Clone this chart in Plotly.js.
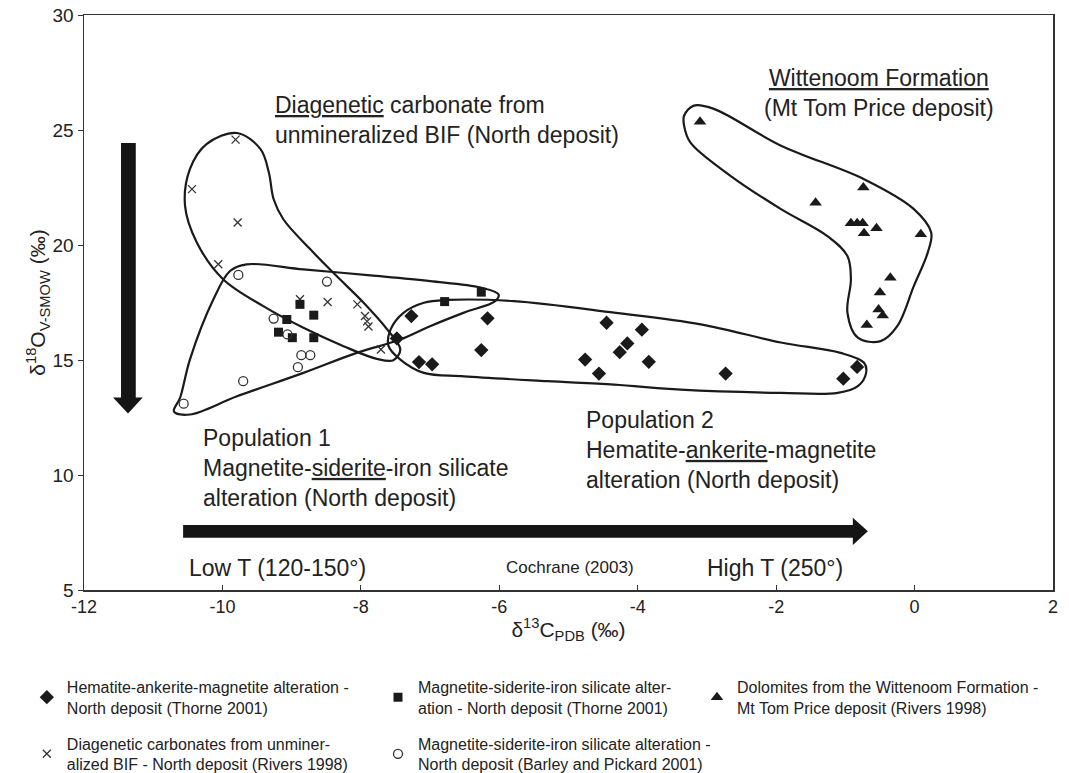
<!DOCTYPE html>
<html>
<head>
<meta charset="utf-8">
<script src="https://cdn.plot.ly/plotly-3.0.1.min.js"></script>
<style>html,body{margin:0;padding:0;background:#fff;}#chart{width:1069px;height:773px;}</style>
</head>
<body>
<div id="chart"></div>
<script>
// ---- data: δ13C (x) and δ18O (y) values ----
const hematiteX = [-7.27,-6.17,-7.48,-6.26,-7.16,-6.97,-4.45,-3.94,-4.15,-4.26,-4.76,-3.84,-4.56,-2.73,-1.03,-0.83];
const hematiteY = [16.91,16.81,15.94,15.43,14.91,14.81,16.62,16.32,15.72,15.34,15.02,14.92,14.41,14.41,14.19,14.70];

const magThorneX = [-8.88,-8.68,-9.07,-9.19,-8.99,-8.68,-6.79,-6.26];
const magThorneY = [17.42,16.95,16.76,16.21,15.97,15.97,17.54,17.95];

const dolomiteX = [-3.10,-0.74,-1.43,-0.92,-0.83,-0.75,-0.73,-0.55,0.09,-0.35,-0.50,-0.52,-0.46,-0.69];
const dolomiteY = [25.36,22.50,21.84,20.95,20.95,20.95,20.51,20.73,20.47,18.58,17.93,17.20,16.94,16.52];

const diageneticX = [-9.81,-10.44,-9.78,-10.06,-8.88,-8.48,-8.05,-7.94,-7.91,-7.89,-7.71];
const diageneticY = [24.58,22.43,20.98,19.16,17.64,17.52,17.42,16.91,16.68,16.46,15.46];

const magBarleyX = [-9.77,-8.49,-9.26,-9.06,-8.86,-8.73,-8.91,-9.70,-10.56];
const magBarleyY = [18.70,18.41,16.80,16.11,15.21,15.21,14.69,14.08,13.10];

// ---- hand-drawn field outlines (data coordinates) ----
const fieldDiagX = [-10.23,-9.79,-9.45,-9.33,-9.26,-9.12,-8.73,-8.35,-7.96,-7.62,-7.43,-7.53,-7.77,-8.25,-8.83,-9.41,-9.99,-10.37,-10.54,-10.47,-10.23];
const fieldDiagY = [24.39,24.87,24.17,23.16,21.99,21.12,19.81,18.65,17.49,16.33,15.46,14.99,15.05,15.60,16.40,17.34,18.51,20.11,21.70,23.30,24.39];

const fieldPop1X = [-9.65,-8.83,-7.86,-7.00,-6.27,-6.01,-6.06,-6.51,-7.00,-7.43,-8.06,-8.83,-9.79,-10.47,-10.70,-10.61,-10.47,-10.13,-9.89,-9.65];
const fieldPop1Y = [19.16,18.94,18.68,18.43,18.15,17.85,17.56,17.06,16.47,15.89,15.31,14.44,13.42,12.63,12.76,13.37,15.02,17.64,18.87,19.16];

const fieldPop2X = [-7.09,-6.75,-5.79,-4.34,-3.09,-1.93,-1.07,-0.73,-0.70,-0.82,-1.11,-1.93,-3.38,-4.34,-5.31,-6.51,-7.09,-7.43,-7.60,-7.57,-7.38,-7.09];
const fieldPop2Y = [17.49,17.61,17.56,17.06,16.55,15.76,15.31,14.88,14.44,13.86,13.57,13.57,13.71,13.93,14.08,14.29,14.44,15.02,15.60,16.33,17.06,17.49];

const fieldWittX = [-3.19,-2.90,-1.93,-0.73,-0.01,0.24,0.19,-0.01,-0.25,-0.49,-0.82,-0.97,-0.92,-0.97,-1.26,-1.93,-2.66,-3.24,-3.33,-3.33,-3.19];
const fieldWittY = [26.06,25.92,24.32,22.86,21.56,20.54,19.67,18.22,16.47,15.82,15.97,17.06,18.51,19.52,20.39,21.56,23.01,24.46,25.19,25.62,26.06];

// ---- tick labels ----
const xTickVals = [-12, -10, -8, -6, -4, -2, 0, 2];
const xTickText = ['-12', '-10', '-8', '-6', '-4', '-2', '0', '2'];

// ---- legend labels ----
const names = [
  "Hematite-ankerite-magnetite alteration -<br>North deposit (Thorne 2001)",
  "Magnetite-siderite-iron silicate alter-<br>ation - North deposit (Thorne 2001)",
  "Dolomites from the Wittenoom Formation -<br>Mt Tom Price deposit (Rivers 1998)",
  "Diagenetic carbonates from unminer-<br>alized BIF - North deposit (Rivers 1998)",
  "Magnetite-siderite-iron silicate alteration -<br>North deposit (Barley and Pickard 2001)"
];

const ink = '#1a1a1a';
function field(x, y) {
  return {x: x, y: y, type: 'scatter', mode: 'lines', showlegend: false, hoverinfo: 'skip',
          line: {color: ink, width: 2.2, shape: 'spline', smoothing: 1}};
}
const traces = [
  field(fieldDiagX, fieldDiagY), field(fieldPop1X, fieldPop1Y),
  field(fieldPop2X, fieldPop2Y), field(fieldWittX, fieldWittY),
  {x: hematiteX, y: hematiteY, name: names[0], type: 'scatter', mode: 'markers', legend: 'legend', legendgroup: 'a',
   marker: {symbol: 'diamond', size: 11, color: ink}},
  {x: diageneticX, y: diageneticY, name: names[3], type: 'scatter', mode: 'markers', legend: 'legend', legendgroup: 'b',
   marker: {symbol: 'x-thin-open', size: 8, color: '#333', line: {width: 1.3, color: '#333'}}},
  {x: magThorneX, y: magThorneY, name: names[1], type: 'scatter', mode: 'markers', legend: 'legend2', legendgroup: 'c',
   marker: {symbol: 'square', size: 9, color: ink}},
  {x: magBarleyX, y: magBarleyY, name: names[4], type: 'scatter', mode: 'markers', legend: 'legend2', legendgroup: 'd',
   marker: {symbol: 'circle-open', size: 9, color: '#333', line: {width: 1.3, color: '#333'}}},
  {x: dolomiteX, y: dolomiteY, name: names[2], type: 'scatter', mode: 'markers', legend: 'legend3', legendgroup: 'e',
   marker: {symbol: 'triangle-up', size: 11, color: ink}}
];

const big = {family: 'Liberation Sans, Arial, sans-serif', size: 23, color: '#222'};
function note(text, x, y, anchor, font, align) {
  return {text: text, x: x, y: y, xref: 'x', yref: 'y', xanchor: anchor || 'left', yanchor: 'middle',
          align: align || 'left', showarrow: false, font: font || big};
}
const legendFont = {family: 'Liberation Sans, Arial, sans-serif', size: 16, color: '#222'};
function leg(x) {
  return {x: x, y: -0.139, xanchor: 'left', yanchor: 'top', orientation: 'v', bgcolor: 'rgba(0,0,0,0)',
          font: legendFont, tracegroupgap: 12, itemclick: false};
}

const layout = {
  width: 1069, height: 773,
  margin: {l: 84, r: 16, t: 15, b: 183, autoexpand: false},
  paper_bgcolor: '#fff', plot_bgcolor: '#fff',
  font: {family: 'Liberation Sans, Arial, sans-serif', color: '#222'},
  showlegend: true,
  legend: leg(-0.059), legend2: leg(0.3034), legend3: leg(0.6326),
  xaxis: {range: [-12, 2], tickvals: xTickVals, ticktext: xTickText, showgrid: false, zeroline: false,
          showline: true, mirror: true, linecolor: '#333', linewidth: 1.5,
          ticks: 'inside', ticklen: 5, tickcolor: '#333',
          tickfont: {family: 'Liberation Sans, Arial, sans-serif', size: 18, color: '#222'},
          title: {text: 'δ<sup>13</sup>C<sub>PDB</sub> (‰)', standoff: 6,
                  font: {family: 'Liberation Sans, Arial, sans-serif', size: 21, color: '#222'}}},
  yaxis: {range: [5, 30], dtick: 5, showgrid: false, zeroline: false,
          showline: true, mirror: true, linecolor: '#333', linewidth: 1.5,
          ticks: 'outside', ticklen: 5, tickcolor: '#333',
          tickfont: {family: 'Liberation Sans, Arial, sans-serif', size: 19, color: '#222'},
          title: {text: 'δ<sup>18</sup>O<sub>V-SMOW</sub> (‰)', standoff: 0,
                  font: {family: 'Liberation Sans, Arial, sans-serif', size: 21, color: '#222'}}},
  shapes: [
    {type: 'path', xref: 'x', yref: 'y', fillcolor: '#151515', line: {width: 0},
     path: 'M -11.465 24.43 L -11.252 24.43 L -11.252 13.37 L -11.151 13.37 L -11.364 12.67 L -11.581 13.37 L -11.465 13.37 Z'},
    {type: 'path', xref: 'x', yref: 'y', fillcolor: '#151515', line: {width: 0},
     path: 'M -10.568 7.83 L -0.892 7.83 L -0.892 8.14 L -0.675 7.55 L -0.892 6.96 L -0.892 7.27 L -10.568 7.27 Z'}
  ],
  annotations: [
    note('<u>Diagenetic</u> carbonate from<br>unmineralized BIF (North deposit)', -9.27, 25.43),
    note('<u>Wittenoom Formation</u><br>(Mt Tom Price deposit)', -0.52, 26.59, 'center', null, 'center'),
    note('Population 1<br>Magnetite-<u>siderite</u>-iron silicate<br>alteration (North deposit)', -10.31, 10.32),
    note('Population 2<br>Hematite-<u>ankerite</u>-magnetite<br>alteration (North deposit)', -4.77, 11.10),
    note('Low T (120-150°)', -10.51, 5.96),
    note('Cochrane (2003)', -4.985, 5.96, 'center', {family: 'Liberation Sans, Arial, sans-serif', size: 17, color: '#222'}),
    note('High T (250°)', -3.03, 5.96)
  ]
};

Plotly.newPlot('chart', traces, layout, {displayModeBar: false, staticPlot: true});
</script>
</body>
</html>
